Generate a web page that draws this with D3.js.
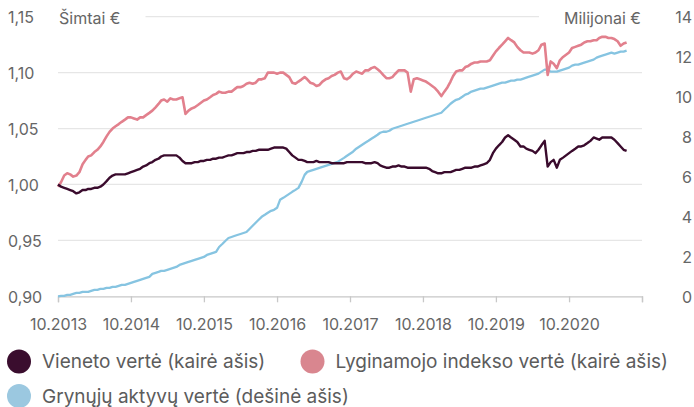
<!DOCTYPE html>
<html><head><meta charset="utf-8">
<script src="https://cdn.jsdelivr.net/npm/d3@7"></script>
<style>
html,body{margin:0;padding:0;background:#fff;}
svg{display:block;font-family:Inter,"Noto Sans",sans-serif;}
</style></head>
<body><svg id="c" width="694" height="407"></svg>
<script>
// ---- data (half-monthly samples: 1st and 16th of each month from Oct 2013) ----
const startMonth = "2013-10-01";
const unitValue = [1.000,0.998,0.997,0.996,0.995,0.994,0.992,0.993,0.995,0.995,0.996,0.996,0.997,0.997,0.998,1.000,1.003,1.006,1.008,1.009,
1.009,1.009,1.009,1.010,1.011,1.012,1.013,1.014,1.016,1.017,1.019,1.020,1.022,1.023,1.025,1.026,1.026,1.026,1.026,1.026,
1.024,1.021,1.019,1.019,1.019,1.020,1.020,1.021,1.021,1.022,1.022,1.023,1.023,1.024,1.024,1.025,1.026,1.026,1.027,1.028,
1.028,1.028,1.029,1.029,1.030,1.030,1.031,1.031,1.031,1.031,1.032,1.033,1.033,1.033,1.033,1.032,1.029,1.026,1.024,1.022,
1.022,1.021,1.020,1.020,1.020,1.021,1.020,1.020,1.020,1.020,1.019,1.019,1.019,1.019,1.019,1.020,1.020,1.020,1.020,1.020,
1.020,1.019,1.019,1.019,1.020,1.019,1.017,1.016,1.015,1.015,1.016,1.016,1.017,1.016,1.016,1.015,1.015,1.015,1.015,1.015,
1.015,1.015,1.014,1.012,1.011,1.010,1.010,1.011,1.011,1.011,1.012,1.013,1.013,1.014,1.015,1.015,1.015,1.016,1.016,1.017,
1.018,1.019,1.022,1.028,1.032,1.035,1.038,1.042,1.044,1.042,1.040,1.038,1.034,1.034,1.032,1.031,1.030,1.028,1.031,1.035,
1.039,1.016,1.020,1.022,1.015,1.022,1.024,1.026,1.028,1.030,1.032,1.034,1.034,1.035,1.037,1.039,1.042,1.041,1.040,1.042,
1.042,1.042,1.042,1.040,1.037,1.034,1.031,1.030];
const indexValue = [0.998,1.002,1.008,1.010,1.009,1.007,1.008,1.011,1.018,1.022,1.025,1.026,1.029,1.031,1.034,1.038,1.043,1.047,1.050,1.052,
1.054,1.056,1.058,1.060,1.060,1.059,1.058,1.060,1.060,1.062,1.064,1.066,1.069,1.072,1.075,1.076,1.074,1.077,1.076,1.076,
1.077,1.078,1.063,1.066,1.068,1.069,1.071,1.073,1.075,1.076,1.078,1.080,1.081,1.083,1.082,1.082,1.083,1.083,1.085,1.087,
1.087,1.088,1.090,1.091,1.090,1.091,1.094,1.094,1.095,1.100,1.100,1.100,1.099,1.100,1.100,1.098,1.096,1.091,1.090,1.092,
1.094,1.096,1.094,1.091,1.090,1.088,1.089,1.092,1.094,1.095,1.097,1.098,1.100,1.101,1.095,1.094,1.096,1.099,1.101,1.100,
1.099,1.102,1.102,1.104,1.105,1.103,1.101,1.098,1.095,1.095,1.096,1.099,1.102,1.102,1.102,1.100,1.083,1.094,1.095,1.094,
1.093,1.092,1.090,1.088,1.086,1.083,1.079,1.083,1.087,1.092,1.097,1.101,1.102,1.102,1.105,1.106,1.108,1.109,1.109,1.110,
1.110,1.110,1.111,1.115,1.119,1.122,1.125,1.128,1.131,1.129,1.127,1.123,1.120,1.118,1.118,1.118,1.117,1.118,1.120,1.125,
1.126,1.098,1.110,1.108,1.104,1.111,1.114,1.116,1.118,1.122,1.123,1.124,1.125,1.127,1.128,1.128,1.129,1.129,1.131,1.132,
1.132,1.131,1.131,1.130,1.128,1.124,1.126,1.127];
const netAssets = [0.00,0.02,0.02,0.07,0.07,0.12,0.17,0.17,0.22,0.22,0.22,0.27,0.32,0.32,0.37,0.37,0.42,0.42,0.47,0.47,
0.52,0.57,0.57,0.62,0.67,0.72,0.77,0.82,0.87,0.92,0.97,1.12,1.17,1.22,1.27,1.27,1.32,1.37,1.42,1.47,
1.57,1.62,1.67,1.72,1.77,1.82,1.87,1.92,1.97,2.07,2.12,2.17,2.22,2.47,2.62,2.77,2.92,2.97,3.02,3.07,
3.12,3.17,3.22,3.37,3.53,3.68,3.83,3.98,4.08,4.18,4.28,4.33,4.43,4.83,4.93,5.03,5.13,5.23,5.33,5.43,
5.73,6.08,6.23,6.28,6.33,6.38,6.43,6.48,6.53,6.58,6.63,6.68,6.73,6.83,6.93,7.04,7.14,7.24,7.39,7.49,
7.59,7.69,7.79,7.89,7.99,8.09,8.19,8.24,8.24,8.29,8.39,8.44,8.49,8.54,8.59,8.64,8.69,8.74,8.79,8.84,
8.89,8.94,8.99,9.04,9.09,9.14,9.19,9.34,9.49,9.64,9.74,9.84,9.89,9.99,10.10,10.15,10.25,10.30,10.35,10.40,
10.40,10.45,10.50,10.55,10.60,10.65,10.70,10.70,10.75,10.80,10.80,10.85,10.85,10.90,10.95,11.00,11.05,11.10,11.15,11.25,
11.35,11.35,11.25,11.25,11.25,11.30,11.35,11.40,11.45,11.55,11.60,11.60,11.65,11.70,11.75,11.80,11.85,11.95,12.00,12.05,
12.10,12.15,12.20,12.15,12.20,12.25,12.25,12.30];
const leftTicks = [0.90, 0.95, 1.00, 1.05, 1.10, 1.15];
const rightTicks = [0, 2, 4, 6, 8, 10, 12, 14];
const xTickYears = [2013, 2014, 2015, 2016, 2017, 2018, 2019, 2020, 2021];
const xTickLabels = ["10.2013","10.2014","10.2015","10.2016","10.2017","10.2018","10.2019","10.2020",""];
const leftTitle = "Šimtai €";
const rightTitle = "Milijonai €";
const seriesNames = ["Vieneto vertė (kairė ašis)", "Lyginamojo indekso vertė (kairė ašis)", "Grynųjų aktyvų vertė (dešinė ašis)"];
const colors = {unit:"#3a0b2d", index:"#e2808d", assets:"#86c4e1"};
const legendColors = ["#3a0d2e", "#d9868f", "#9bc8e0"];

// ---- build ----
const start = new Date(startMonth + "T00:00:00");
const dates = unitValue.map((_, i) => {
  const m = d3.timeMonth.offset(start, Math.floor(i / 2));
  return i % 2 ? d3.timeDay.offset(m, 15) : m;
});
const svg = d3.select("#c");
const x = d3.scaleTime().domain([new Date(2013,9,1), new Date(2021,9,1)]).range([58, 642]);
const yL = d3.scaleLinear().domain([0.90, 1.15]).range([296.3, 16.7]);
const yR = d3.scaleLinear().domain([0, 14]).range([296.3, 16.7]);
const fmt = d3.format(".2f");

// gridlines
svg.append("g").selectAll("line").data(leftTicks.slice(1)).join("line")
  .attr("x1", 58).attr("x2", 642).attr("y1", d => yL(d)).attr("y2", d => yL(d))
  .attr("stroke", "#e6e6e6").attr("stroke-width", 1.3);

// axis titles with white backing
function title(txt, xp, anchor) {
  const t = svg.append("text").attr("x", xp).attr("y", 24).attr("text-anchor", anchor)
    .attr("font-size", 16).attr("fill", "#666").text(txt);
  const b = t.node().getBBox();
  svg.insert("rect", "text").attr("x", b.x - 25).attr("y", 8).attr("width", b.width + 50).attr("height", 18).attr("fill", "#fff");
  t.raise();
}
title(leftTitle, 59, "start");
title(rightTitle, 641, "end");

// left ticks
svg.append("g").selectAll("text").data(leftTicks).join("text")
  .attr("x", 8).attr("y", d => yL(d)).attr("dy", "0.4em")
  .attr("font-size", 16).attr("fill", "#666")
  .text(d => fmt(d).replace(".", ","));
// right ticks
svg.append("g").selectAll("text").data(rightTicks).join("text")
  .attr("x", 692).attr("y", d => yR(d)).attr("dy", "0.4em").attr("text-anchor", "end")
  .attr("font-size", 16).attr("fill", "#666").text(d => d);

// x axis
const xTicks = xTickYears.map(yv => new Date(yv, 9, 1));
const xAxis = d3.axisBottom(x).tickValues(xTicks).tickSize(6).tickPadding(16)
  .tickFormat((d, i) => xTickLabels[i]);
const gx = svg.append("g").attr("transform", "translate(0,296.3)").call(xAxis);
gx.select(".domain").attr("stroke", "#c8c8c8").attr("stroke-width", 1.3);
gx.selectAll(".tick line").attr("stroke", "#c8c8c8").attr("stroke-width", 1.3);
gx.selectAll(".tick text").attr("font-size", 16).attr("fill", "#666").attr("font-family", "Inter,'Noto Sans',sans-serif");

// lines
const mk = (arr, sc) => d3.line().x((d, i) => x(dates[i])).y(d => sc(d))(arr);
svg.append("path").attr("d", mk(netAssets, yR)).attr("fill", "none").attr("stroke", colors.assets).attr("stroke-width", 2.3).attr("stroke-linejoin", "round");
svg.append("path").attr("d", mk(indexValue, yL)).attr("fill", "none").attr("stroke", colors.index).attr("stroke-width", 2.6).attr("stroke-linejoin", "round");
svg.append("path").attr("d", mk(unitValue, yL)).attr("fill", "none").attr("stroke", colors.unit).attr("stroke-width", 2.4).attr("stroke-linejoin", "round");

// legend
const legendItems = [
  {name: seriesNames[0], c: legendColors[0], cx: 19, cy: 361.5},
  {name: seriesNames[1], c: legendColors[1], cx: 312.5, cy: 361.5},
  {name: seriesNames[2], c: legendColors[2], cx: 19, cy: 396}
];
const lg = svg.append("g").selectAll("g").data(legendItems).join("g");
lg.append("circle").attr("cx", d => d.cx).attr("cy", d => d.cy).attr("r", 12).attr("fill", d => d.c);
lg.append("text").attr("x", d => d.cx + 23).attr("y", d => d.cy).attr("dy", "0.36em")
  .attr("font-size", 19).attr("fill", "#5c5c5c").text(d => d.name);
</script></body></html>
